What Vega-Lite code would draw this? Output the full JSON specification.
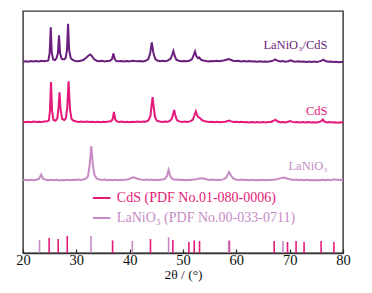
{
  "$schema": "https://vega.github.io/schema/vega-lite/v6.json",
  "width": 320,
  "height": 242,
  "autosize": "none",
  "padding": {"left": 23, "top": 11, "right": 29, "bottom": 40},
  "background": "white",
  "config": {
    "view": {"stroke": "#333333", "strokeWidth": 1.4},
    "font": "Liberation Serif"
  },
  "datasets": {
    "xrd": [
      {"s":"LaNiO3/CdS","t":20,"i":191.3},{"s":"LaNiO3/CdS","t":20.5,"i":191.8},{"s":"LaNiO3/CdS","t":21,"i":191.2},{"s":"LaNiO3/CdS","t":21.5,"i":191.9},{"s":"LaNiO3/CdS","t":22,"i":191.4},{"s":"LaNiO3/CdS","t":22.5,"i":192.0},{"s":"LaNiO3/CdS","t":23,"i":191.6},{"s":"LaNiO3/CdS","t":23.5,"i":192.3},{"s":"LaNiO3/CdS","t":24,"i":191.8},{"s":"LaNiO3/CdS","t":24.5,"i":192.2},
      {"s":"LaNiO3/CdS","t":24.75,"i":192.5},{"s":"LaNiO3/CdS","t":25.0,"i":200},{"s":"LaNiO3/CdS","t":25.2,"i":225.6},{"s":"LaNiO3/CdS","t":25.4,"i":200},{"s":"LaNiO3/CdS","t":25.65,"i":193.5},{"s":"LaNiO3/CdS","t":26.0,"i":193},{"s":"LaNiO3/CdS","t":26.3,"i":195},{"s":"LaNiO3/CdS","t":26.55,"i":200},{"s":"LaNiO3/CdS","t":26.75,"i":217.6},{"s":"LaNiO3/CdS","t":26.95,"i":200},{"s":"LaNiO3/CdS","t":27.25,"i":194},{"s":"LaNiO3/CdS","t":27.7,"i":193.5},{"s":"LaNiO3/CdS","t":28.0,"i":195},{"s":"LaNiO3/CdS","t":28.25,"i":203},{"s":"LaNiO3/CdS","t":28.45,"i":229.3},{"s":"LaNiO3/CdS","t":28.65,"i":203},{"s":"LaNiO3/CdS","t":28.95,"i":195},{"s":"LaNiO3/CdS","t":29.3,"i":193},{"s":"LaNiO3/CdS","t":29.8,"i":192},{"s":"LaNiO3/CdS","t":30.3,"i":191.8},{"s":"LaNiO3/CdS","t":30.8,"i":192.3},{"s":"LaNiO3/CdS","t":31.3,"i":193},{"s":"LaNiO3/CdS","t":31.8,"i":195},{"s":"LaNiO3/CdS","t":32.3,"i":197.5},{"s":"LaNiO3/CdS","t":32.6,"i":198.5},{"s":"LaNiO3/CdS","t":32.9,"i":197},{"s":"LaNiO3/CdS","t":33.3,"i":194},{"s":"LaNiO3/CdS","t":33.8,"i":192.3},{"s":"LaNiO3/CdS","t":34.3,"i":191.8},{"s":"LaNiO3/CdS","t":34.8,"i":192.2},{"s":"LaNiO3/CdS","t":35.3,"i":191.6},{"s":"LaNiO3/CdS","t":35.8,"i":192},{"s":"LaNiO3/CdS","t":36.3,"i":192.3},{"s":"LaNiO3/CdS","t":36.7,"i":194},{"s":"LaNiO3/CdS","t":36.95,"i":199.5},{"s":"LaNiO3/CdS","t":37.2,"i":194},{"s":"LaNiO3/CdS","t":37.5,"i":192},{"s":"LaNiO3/CdS","t":38,"i":191.7},{"s":"LaNiO3/CdS","t":38.5,"i":192.1},{"s":"LaNiO3/CdS","t":39,"i":191.5},{"s":"LaNiO3/CdS","t":39.5,"i":191.9},{"s":"LaNiO3/CdS","t":40,"i":191.6},{"s":"LaNiO3/CdS","t":40.5,"i":192.3},{"s":"LaNiO3/CdS","t":41,"i":192},{"s":"LaNiO3/CdS","t":41.5,"i":191.8},{"s":"LaNiO3/CdS","t":42,"i":192.1},{"s":"LaNiO3/CdS","t":42.5,"i":191.6},{"s":"LaNiO3/CdS","t":43,"i":192.2},{"s":"LaNiO3/CdS","t":43.5,"i":194},{"s":"LaNiO3/CdS","t":43.85,"i":200},{"s":"LaNiO3/CdS","t":44.15,"i":210.6},{"s":"LaNiO3/CdS","t":44.45,"i":200},{"s":"LaNiO3/CdS","t":44.8,"i":194},{"s":"LaNiO3/CdS","t":45.2,"i":192.4},{"s":"LaNiO3/CdS","t":45.7,"i":191.8},{"s":"LaNiO3/CdS","t":46.2,"i":192.2},{"s":"LaNiO3/CdS","t":46.7,"i":191.7},{"s":"LaNiO3/CdS","t":47.2,"i":192.6},{"s":"LaNiO3/CdS","t":47.7,"i":194.5},{"s":"LaNiO3/CdS","t":47.95,"i":198},{"s":"LaNiO3/CdS","t":48.2,"i":202},{"s":"LaNiO3/CdS","t":48.45,"i":197},{"s":"LaNiO3/CdS","t":48.75,"i":193.3},{"s":"LaNiO3/CdS","t":49.2,"i":192.3},{"s":"LaNiO3/CdS","t":49.7,"i":191.8},{"s":"LaNiO3/CdS","t":50.2,"i":192},{"s":"LaNiO3/CdS","t":50.7,"i":191.7},{"s":"LaNiO3/CdS","t":51.2,"i":192.3},{"s":"LaNiO3/CdS","t":51.7,"i":194},{"s":"LaNiO3/CdS","t":52.0,"i":198},{"s":"LaNiO3/CdS","t":52.25,"i":201.6},{"s":"LaNiO3/CdS","t":52.5,"i":197},{"s":"LaNiO3/CdS","t":52.8,"i":195},{"s":"LaNiO3/CdS","t":53.05,"i":195.5},{"s":"LaNiO3/CdS","t":53.4,"i":193.2},{"s":"LaNiO3/CdS","t":53.8,"i":192.5},{"s":"LaNiO3/CdS","t":54.3,"i":192},{"s":"LaNiO3/CdS","t":54.8,"i":191.6},{"s":"LaNiO3/CdS","t":55.3,"i":192.1},{"s":"LaNiO3/CdS","t":55.8,"i":191.7},{"s":"LaNiO3/CdS","t":56.3,"i":192.2},{"s":"LaNiO3/CdS","t":56.8,"i":191.8},{"s":"LaNiO3/CdS","t":57.3,"i":192.3},{"s":"LaNiO3/CdS","t":57.8,"i":192.7},{"s":"LaNiO3/CdS","t":58.3,"i":193.5},{"s":"LaNiO3/CdS","t":58.6,"i":194},{"s":"LaNiO3/CdS","t":58.9,"i":193.3},{"s":"LaNiO3/CdS","t":59.4,"i":192.3},{"s":"LaNiO3/CdS","t":59.9,"i":191.9},{"s":"LaNiO3/CdS","t":60.4,"i":192.2},{"s":"LaNiO3/CdS","t":60.9,"i":191.6},{"s":"LaNiO3/CdS","t":61.4,"i":192},{"s":"LaNiO3/CdS","t":61.9,"i":191.5},{"s":"LaNiO3/CdS","t":62.4,"i":191.9},{"s":"LaNiO3/CdS","t":62.9,"i":191.4},{"s":"LaNiO3/CdS","t":63.4,"i":191.8},{"s":"LaNiO3/CdS","t":63.9,"i":191.3},{"s":"LaNiO3/CdS","t":64.4,"i":191.7},{"s":"LaNiO3/CdS","t":64.9,"i":191.2},{"s":"LaNiO3/CdS","t":65.4,"i":191.6},{"s":"LaNiO3/CdS","t":65.9,"i":191.3},{"s":"LaNiO3/CdS","t":66.4,"i":191.7},{"s":"LaNiO3/CdS","t":66.9,"i":192.4},{"s":"LaNiO3/CdS","t":67.3,"i":193.6},{"s":"LaNiO3/CdS","t":67.7,"i":192.4},{"s":"LaNiO3/CdS","t":68.2,"i":191.5},{"s":"LaNiO3/CdS","t":68.7,"i":191.9},{"s":"LaNiO3/CdS","t":69.2,"i":191.3},{"s":"LaNiO3/CdS","t":69.7,"i":191.8},{"s":"LaNiO3/CdS","t":70.2,"i":192.7},{"s":"LaNiO3/CdS","t":70.6,"i":191.8},{"s":"LaNiO3/CdS","t":71.1,"i":191.3},{"s":"LaNiO3/CdS","t":71.6,"i":191.7},{"s":"LaNiO3/CdS","t":72.1,"i":191.2},{"s":"LaNiO3/CdS","t":72.6,"i":191.6},{"s":"LaNiO3/CdS","t":73.1,"i":191.1},{"s":"LaNiO3/CdS","t":73.6,"i":191.5},{"s":"LaNiO3/CdS","t":74.1,"i":191},{"s":"LaNiO3/CdS","t":74.6,"i":191.4},{"s":"LaNiO3/CdS","t":75.1,"i":191.1},{"s":"LaNiO3/CdS","t":75.6,"i":191.6},{"s":"LaNiO3/CdS","t":76.0,"i":192.4},{"s":"LaNiO3/CdS","t":76.3,"i":193.3},{"s":"LaNiO3/CdS","t":76.7,"i":192},{"s":"LaNiO3/CdS","t":77.2,"i":191.2},{"s":"LaNiO3/CdS","t":77.7,"i":191.5},{"s":"LaNiO3/CdS","t":78.2,"i":190.9},{"s":"LaNiO3/CdS","t":78.7,"i":191.3},{"s":"LaNiO3/CdS","t":79.2,"i":190.8},{"s":"LaNiO3/CdS","t":79.7,"i":191.1},{"s":"LaNiO3/CdS","t":80,"i":190.9},

      {"s":"CdS","t":20,"i":131.2},{"s":"CdS","t":20.5,"i":130.7},{"s":"CdS","t":21,"i":131.3},{"s":"CdS","t":21.5,"i":130.8},{"s":"CdS","t":22,"i":131.4},{"s":"CdS","t":22.5,"i":130.9},{"s":"CdS","t":23,"i":131.3},{"s":"CdS","t":23.5,"i":131},{"s":"CdS","t":24,"i":131.5},{"s":"CdS","t":24.5,"i":131.8},{"s":"CdS","t":24.85,"i":132.5},{"s":"CdS","t":25.05,"i":142},{"s":"CdS","t":25.25,"i":171},{"s":"CdS","t":25.45,"i":142},{"s":"CdS","t":25.7,"i":133},{"s":"CdS","t":26.1,"i":132.3},{"s":"CdS","t":26.45,"i":135},{"s":"CdS","t":26.65,"i":145},{"s":"CdS","t":26.85,"i":160.6},{"s":"CdS","t":27.05,"i":143},{"s":"CdS","t":27.35,"i":134},{"s":"CdS","t":27.75,"i":133},{"s":"CdS","t":28.05,"i":135},{"s":"CdS","t":28.3,"i":146},{"s":"CdS","t":28.55,"i":171.6},{"s":"CdS","t":28.8,"i":144},{"s":"CdS","t":29.1,"i":134},{"s":"CdS","t":29.5,"i":132.2},{"s":"CdS","t":30,"i":131.5},{"s":"CdS","t":30.5,"i":131.1},{"s":"CdS","t":31,"i":131.6},{"s":"CdS","t":31.5,"i":131},{"s":"CdS","t":32,"i":131.4},{"s":"CdS","t":32.5,"i":130.9},{"s":"CdS","t":33,"i":131.3},{"s":"CdS","t":33.5,"i":130.8},{"s":"CdS","t":34,"i":131.2},{"s":"CdS","t":34.5,"i":130.7},{"s":"CdS","t":35,"i":131.3},{"s":"CdS","t":35.5,"i":130.9},{"s":"CdS","t":36,"i":131.4},{"s":"CdS","t":36.5,"i":131.8},{"s":"CdS","t":36.8,"i":133.5},{"s":"CdS","t":37.05,"i":141},{"s":"CdS","t":37.3,"i":133.5},{"s":"CdS","t":37.6,"i":131.6},{"s":"CdS","t":38,"i":131.1},{"s":"CdS","t":38.5,"i":131.4},{"s":"CdS","t":39,"i":130.8},{"s":"CdS","t":39.5,"i":131.2},{"s":"CdS","t":40,"i":130.7},{"s":"CdS","t":40.5,"i":131.3},{"s":"CdS","t":41,"i":130.9},{"s":"CdS","t":41.5,"i":131.4},{"s":"CdS","t":42,"i":131},{"s":"CdS","t":42.5,"i":131.5},{"s":"CdS","t":43,"i":131.3},{"s":"CdS","t":43.5,"i":132.5},{"s":"CdS","t":43.9,"i":137},{"s":"CdS","t":44.1,"i":147},{"s":"CdS","t":44.3,"i":156},{"s":"CdS","t":44.5,"i":146},{"s":"CdS","t":44.75,"i":136},{"s":"CdS","t":45.1,"i":132.3},{"s":"CdS","t":45.6,"i":131.5},{"s":"CdS","t":46.1,"i":131},{"s":"CdS","t":46.6,"i":131.4},{"s":"CdS","t":47.1,"i":131.2},{"s":"CdS","t":47.6,"i":132.3},{"s":"CdS","t":47.95,"i":135},{"s":"CdS","t":48.15,"i":139},{"s":"CdS","t":48.35,"i":143},{"s":"CdS","t":48.55,"i":138},{"s":"CdS","t":48.85,"i":133},{"s":"CdS","t":49.3,"i":131.6},{"s":"CdS","t":49.8,"i":131.1},{"s":"CdS","t":50.3,"i":131.4},{"s":"CdS","t":50.8,"i":131},{"s":"CdS","t":51.3,"i":131.6},{"s":"CdS","t":51.8,"i":133},{"s":"CdS","t":52.1,"i":137},{"s":"CdS","t":52.4,"i":141.6},{"s":"CdS","t":52.7,"i":137},{"s":"CdS","t":52.95,"i":135.5},{"s":"CdS","t":53.2,"i":135},{"s":"CdS","t":53.5,"i":133},{"s":"CdS","t":53.9,"i":132},{"s":"CdS","t":54.4,"i":131.4},{"s":"CdS","t":54.9,"i":131},{"s":"CdS","t":55.4,"i":131.3},{"s":"CdS","t":55.9,"i":130.8},{"s":"CdS","t":56.4,"i":131.2},{"s":"CdS","t":56.9,"i":130.7},{"s":"CdS","t":57.4,"i":131.1},{"s":"CdS","t":57.9,"i":131.3},{"s":"CdS","t":58.4,"i":131.9},{"s":"CdS","t":58.7,"i":132.5},{"s":"CdS","t":59,"i":131.6},{"s":"CdS","t":59.5,"i":131},{"s":"CdS","t":60,"i":131.3},{"s":"CdS","t":60.5,"i":130.8},{"s":"CdS","t":61,"i":131.2},{"s":"CdS","t":61.5,"i":130.7},{"s":"CdS","t":62,"i":131.1},{"s":"CdS","t":62.5,"i":130.6},{"s":"CdS","t":63,"i":131},{"s":"CdS","t":63.5,"i":130.5},{"s":"CdS","t":64,"i":130.9},{"s":"CdS","t":64.5,"i":130.4},{"s":"CdS","t":65,"i":130.9},{"s":"CdS","t":65.5,"i":130.5},{"s":"CdS","t":66,"i":130.9},{"s":"CdS","t":66.5,"i":131},{"s":"CdS","t":66.9,"i":132},{"s":"CdS","t":67.3,"i":133.3},{"s":"CdS","t":67.7,"i":131.7},{"s":"CdS","t":68.2,"i":130.8},{"s":"CdS","t":68.7,"i":131.1},{"s":"CdS","t":69.2,"i":130.6},{"s":"CdS","t":69.7,"i":131.3},{"s":"CdS","t":70.1,"i":131.9},{"s":"CdS","t":70.5,"i":131.1},{"s":"CdS","t":71,"i":130.7},{"s":"CdS","t":71.5,"i":131.1},{"s":"CdS","t":72,"i":130.6},{"s":"CdS","t":72.5,"i":131},{"s":"CdS","t":73,"i":130.5},{"s":"CdS","t":73.5,"i":130.9},{"s":"CdS","t":74,"i":130.4},{"s":"CdS","t":74.5,"i":130.8},{"s":"CdS","t":75,"i":130.4},{"s":"CdS","t":75.5,"i":130.9},{"s":"CdS","t":75.9,"i":131.8},{"s":"CdS","t":76.2,"i":133.5},{"s":"CdS","t":76.55,"i":131.3},{"s":"CdS","t":77,"i":130.6},{"s":"CdS","t":77.5,"i":130.9},{"s":"CdS","t":78,"i":130.4},{"s":"CdS","t":78.5,"i":130.8},{"s":"CdS","t":79,"i":130.3},{"s":"CdS","t":79.5,"i":130.7},{"s":"CdS","t":80,"i":130.4},

      {"s":"LaNiO3","t":20,"i":72.8},{"s":"LaNiO3","t":20.5,"i":73.3},{"s":"LaNiO3","t":21,"i":72.7},{"s":"LaNiO3","t":21.5,"i":73.2},{"s":"LaNiO3","t":22,"i":72.8},{"s":"LaNiO3","t":22.5,"i":73.3},{"s":"LaNiO3","t":23,"i":74},{"s":"LaNiO3","t":23.4,"i":78.5},{"s":"LaNiO3","t":23.8,"i":74},{"s":"LaNiO3","t":24.3,"i":73.2},{"s":"LaNiO3","t":24.8,"i":72.8},{"s":"LaNiO3","t":25.3,"i":73.3},{"s":"LaNiO3","t":25.8,"i":72.7},{"s":"LaNiO3","t":26.3,"i":73.2},{"s":"LaNiO3","t":26.8,"i":72.6},{"s":"LaNiO3","t":27.3,"i":73.1},{"s":"LaNiO3","t":27.8,"i":72.7},{"s":"LaNiO3","t":28.3,"i":73.2},{"s":"LaNiO3","t":28.8,"i":72.8},{"s":"LaNiO3","t":29.3,"i":73.3},{"s":"LaNiO3","t":29.8,"i":72.9},{"s":"LaNiO3","t":30.3,"i":73.4},{"s":"LaNiO3","t":30.8,"i":73.1},{"s":"LaNiO3","t":31.3,"i":73.6},{"s":"LaNiO3","t":31.8,"i":74.3},{"s":"LaNiO3","t":32.2,"i":77},{"s":"LaNiO3","t":32.5,"i":88},{"s":"LaNiO3","t":32.8,"i":107},{"s":"LaNiO3","t":33.1,"i":88},{"s":"LaNiO3","t":33.4,"i":78},{"s":"LaNiO3","t":33.8,"i":74.5},{"s":"LaNiO3","t":34.3,"i":73.5},{"s":"LaNiO3","t":34.8,"i":73},{"s":"LaNiO3","t":35.3,"i":73.4},{"s":"LaNiO3","t":35.8,"i":72.8},{"s":"LaNiO3","t":36.3,"i":73.3},{"s":"LaNiO3","t":36.8,"i":72.7},{"s":"LaNiO3","t":37.3,"i":73.2},{"s":"LaNiO3","t":37.8,"i":72.8},{"s":"LaNiO3","t":38.3,"i":73.3},{"s":"LaNiO3","t":38.8,"i":72.9},{"s":"LaNiO3","t":39.3,"i":73.5},{"s":"LaNiO3","t":39.8,"i":73.8},{"s":"LaNiO3","t":40.3,"i":75},{"s":"LaNiO3","t":40.7,"i":75.8},{"s":"LaNiO3","t":41.1,"i":75},{"s":"LaNiO3","t":41.6,"i":74},{"s":"LaNiO3","t":42.1,"i":73.5},{"s":"LaNiO3","t":42.6,"i":73.1},{"s":"LaNiO3","t":43.1,"i":73.5},{"s":"LaNiO3","t":43.6,"i":73},{"s":"LaNiO3","t":44.1,"i":73.4},{"s":"LaNiO3","t":44.6,"i":72.9},{"s":"LaNiO3","t":45.1,"i":73.3},{"s":"LaNiO3","t":45.6,"i":73},{"s":"LaNiO3","t":46.1,"i":73.4},{"s":"LaNiO3","t":46.6,"i":74.2},{"s":"LaNiO3","t":47.0,"i":77},{"s":"LaNiO3","t":47.3,"i":83},{"s":"LaNiO3","t":47.6,"i":77},{"s":"LaNiO3","t":48.0,"i":74},{"s":"LaNiO3","t":48.5,"i":73.2},{"s":"LaNiO3","t":49,"i":73.5},{"s":"LaNiO3","t":49.5,"i":72.9},{"s":"LaNiO3","t":50,"i":73.3},{"s":"LaNiO3","t":50.5,"i":72.8},{"s":"LaNiO3","t":51,"i":73.2},{"s":"LaNiO3","t":51.5,"i":72.9},{"s":"LaNiO3","t":52,"i":73.4},{"s":"LaNiO3","t":52.5,"i":73.8},{"s":"LaNiO3","t":53,"i":74.4},{"s":"LaNiO3","t":53.5,"i":74.8},{"s":"LaNiO3","t":54,"i":74.2},{"s":"LaNiO3","t":54.5,"i":73.5},{"s":"LaNiO3","t":55,"i":73.1},{"s":"LaNiO3","t":55.5,"i":73.4},{"s":"LaNiO3","t":56,"i":72.9},{"s":"LaNiO3","t":56.5,"i":73.3},{"s":"LaNiO3","t":57,"i":73.1},{"s":"LaNiO3","t":57.5,"i":73.6},{"s":"LaNiO3","t":58,"i":74.8},{"s":"LaNiO3","t":58.35,"i":78},{"s":"LaNiO3","t":58.65,"i":81},{"s":"LaNiO3","t":58.95,"i":78},{"s":"LaNiO3","t":59.4,"i":74.6},{"s":"LaNiO3","t":59.9,"i":73.5},{"s":"LaNiO3","t":60.4,"i":73.1},{"s":"LaNiO3","t":60.9,"i":73.4},{"s":"LaNiO3","t":61.4,"i":72.9},{"s":"LaNiO3","t":61.9,"i":73.3},{"s":"LaNiO3","t":62.4,"i":72.8},{"s":"LaNiO3","t":62.9,"i":73.2},{"s":"LaNiO3","t":63.4,"i":72.7},{"s":"LaNiO3","t":63.9,"i":73.1},{"s":"LaNiO3","t":64.4,"i":72.8},{"s":"LaNiO3","t":64.9,"i":73.2},{"s":"LaNiO3","t":65.4,"i":72.7},{"s":"LaNiO3","t":65.9,"i":73.1},{"s":"LaNiO3","t":66.4,"i":72.9},{"s":"LaNiO3","t":66.9,"i":73.3},{"s":"LaNiO3","t":67.4,"i":73.6},{"s":"LaNiO3","t":67.9,"i":74.2},{"s":"LaNiO3","t":68.4,"i":74.9},{"s":"LaNiO3","t":68.8,"i":75.5},{"s":"LaNiO3","t":69.2,"i":75},{"s":"LaNiO3","t":69.7,"i":74.2},{"s":"LaNiO3","t":70.2,"i":73.6},{"s":"LaNiO3","t":70.7,"i":73.1},{"s":"LaNiO3","t":71.2,"i":73.4},{"s":"LaNiO3","t":71.7,"i":72.9},{"s":"LaNiO3","t":72.2,"i":73.3},{"s":"LaNiO3","t":72.7,"i":72.8},{"s":"LaNiO3","t":73.2,"i":73.2},{"s":"LaNiO3","t":73.7,"i":72.7},{"s":"LaNiO3","t":74.2,"i":73.1},{"s":"LaNiO3","t":74.7,"i":72.7},{"s":"LaNiO3","t":75.2,"i":73.1},{"s":"LaNiO3","t":75.7,"i":72.7},{"s":"LaNiO3","t":76.2,"i":73.2},{"s":"LaNiO3","t":76.7,"i":72.8},{"s":"LaNiO3","t":77.2,"i":73.2},{"s":"LaNiO3","t":77.7,"i":72.7},{"s":"LaNiO3","t":78.2,"i":73.4},{"s":"LaNiO3","t":78.7,"i":73.6},{"s":"LaNiO3","t":79.2,"i":73},{"s":"LaNiO3","t":79.7,"i":73.3},{"s":"LaNiO3","t":80,"i":72.9}
    ],
    "sticks": [
      {"p":"CdS","t":24.9,"h":15},{"p":"CdS","t":26.6,"h":14},{"p":"CdS","t":28.3,"h":17},{"p":"CdS","t":36.8,"h":12.6},{"p":"CdS","t":43.9,"h":14},{"p":"CdS","t":48.1,"h":13},{"p":"CdS","t":51.1,"h":11},{"p":"CdS","t":52.1,"h":12.5},{"p":"CdS","t":53.1,"h":12},{"p":"CdS","t":58.7,"h":12.5},{"p":"CdS","t":67.1,"h":12},{"p":"CdS","t":69.6,"h":11},{"p":"CdS","t":71.2,"h":12},{"p":"CdS","t":72.7,"h":11},{"p":"CdS","t":75.9,"h":12},{"p":"CdS","t":78.3,"h":11},
      {"p":"LaNiO3","t":23.1,"h":13},{"p":"LaNiO3","t":32.75,"h":17},{"p":"LaNiO3","t":40.5,"h":12},{"p":"LaNiO3","t":47.3,"h":15.6},{"p":"LaNiO3","t":58.55,"h":12},{"p":"LaNiO3","t":68.75,"h":12}
    ],
    "one": [{}]
  },
  "layer": [
    {
      "data": {"name": "xrd"},
      "mark": {"type": "line", "strokeWidth": 2, "clip": true},
      "encoding": {
        "x": {"field": "t", "type": "quantitative", "scale": {"domain": [20, 80], "nice": false, "zero": false},
          "axis": {
            "values": [20,25,30,35,40,45,50,55,60,65,70,75,80],
            "labelExpr": "datum.value % 10 === 0 ? datum.label : ''",
            "title": "2θ / (°)",
            "grid": false,
            "domainColor": "#333333",
            "domainWidth": 1.4,
            "tickColor": "#222222",
            "tickWidth": 1.2,
            "tickSize": {"condition": {"test": "datum.value % 10 === 0", "value": -4}, "value": -2},
            "labelFont": "Liberation Serif",
            "labelFontSize": 14.5,
            "labelColor": "#111111",
            "labelPadding": 4,
            "labelFlush": false,
            "titleFont": "Liberation Serif",
            "titleFontSize": 13.5,
            "titleFontWeight": "normal",
            "titleColor": "#111111",
            "titlePadding": 1
          }},
        "y": {"field": "i", "type": "quantitative", "scale": {"domain": [0, 242], "nice": false}, "axis": null},
        "color": {"field": "s", "type": "nominal", "legend": null,
          "scale": {"domain": ["LaNiO3/CdS", "CdS", "LaNiO3"], "range": ["#6A1F7E", "#E5197A", "#C68BC5"]}},
        "order": {"field": "t", "type": "quantitative"}
      }
    },
    {
      "data": {"name": "sticks"},
      "mark": {"type": "rule", "strokeWidth": 1.6},
      "encoding": {
        "x": {"field": "t", "type": "quantitative"},
        "y": {"field": "h", "type": "quantitative"},
        "y2": {"datum": 0},
        "color": {"field": "p", "type": "nominal", "legend": null}
      }
    },
    {
      "data": {"name": "one"},
      "mark": {"type": "text", "align": "right", "baseline": "middle", "font": "Liberation Serif", "fontSize": 12.5, "color": "#6A1F7E", "text": "LaNiO₃/CdS"},
      "encoding": {"x": {"datum": 77.1}, "y": {"datum": 207.6}}
    },
    {
      "data": {"name": "one"},
      "mark": {"type": "text", "align": "right", "baseline": "middle", "font": "Liberation Serif", "fontSize": 12.5, "color": "#E5197A", "text": "CdS"},
      "encoding": {"x": {"datum": 77.1}, "y": {"datum": 142.3}}
    },
    {
      "data": {"name": "one"},
      "mark": {"type": "text", "align": "right", "baseline": "middle", "font": "Liberation Serif", "fontSize": 12.5, "color": "#C68BC5", "text": "LaNiO₃"},
      "encoding": {"x": {"datum": 77.1}, "y": {"datum": 87.3}}
    },
    {
      "data": {"name": "one"},
      "mark": {"type": "rule", "strokeWidth": 2, "color": "#E5197A"},
      "encoding": {"x": {"datum": 33.1}, "x2": {"datum": 36.4}, "y": {"datum": 55}}
    },
    {
      "data": {"name": "one"},
      "mark": {"type": "rule", "strokeWidth": 2, "color": "#C68BC5"},
      "encoding": {"x": {"datum": 33.1}, "x2": {"datum": 36.4}, "y": {"datum": 35}}
    },
    {
      "data": {"name": "one"},
      "mark": {"type": "text", "align": "left", "baseline": "middle", "font": "Liberation Serif", "fontSize": 14, "color": "#E5197A", "text": "CdS (PDF No.01-080-0006)"},
      "encoding": {"x": {"datum": 37.6}, "y": {"datum": 55}}
    },
    {
      "data": {"name": "one"},
      "mark": {"type": "text", "align": "left", "baseline": "middle", "font": "Liberation Serif", "fontSize": 14, "color": "#C68BC5", "text": "LaNiO₃ (PDF No.00-033-0711)"},
      "encoding": {"x": {"datum": 37.6}, "y": {"datum": 35}}
    }
  ]
}
